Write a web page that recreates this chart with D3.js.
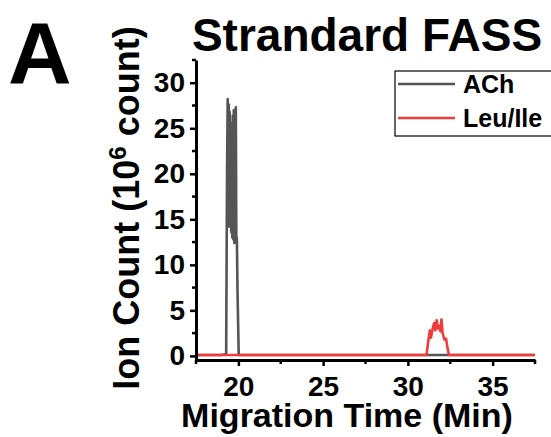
<!DOCTYPE html>
<html>
<head>
<meta charset="utf-8">
<script src="https://cdn.jsdelivr.net/npm/d3@7"></script>
<style>
  body { margin: 0; background: #fff; }
  text { font-family: "Liberation Sans", Arial, sans-serif; font-weight: bold; }
</style>
</head>
<body>
<div id="chart"></div>
<script>
// ACh trace (min, 10^6 count)
var achTime  = [17.5, 19.0, 19.28, 19.33, 19.37, 19.40, 19.43, 19.46, 19.49, 19.52, 19.55, 19.58, 19.61, 19.64, 19.67, 19.70, 19.73, 19.76, 19.79, 19.82, 19.85, 19.88, 19.91, 19.95, 20.02, 20.1, 37.5];
var achValue = [0.1, 0.1, 0.2, 20.0, 28.2, 15.0, 27.6, 14.2, 26.8, 16.0, 25.6, 13.6, 25.2, 13.0, 26.4, 12.8, 27.0, 12.4, 26.6, 13.2, 27.3, 12.5, 13.0, 7.0, 0.1, 0.1, 0.1];
// Leu/Ile trace
var leuTime  = [17.5, 31.10, 31.20, 31.30, 31.36, 31.45, 31.55, 31.62, 31.70, 31.78, 31.85, 31.92, 31.98, 32.05, 32.15, 32.25, 32.32, 32.42, 37.5];
var leuValue = [0.1, 0.1, 1.6, 2.8, 2.0, 2.9, 3.6, 2.8, 3.9, 3.0, 3.3, 2.7, 4.0, 2.5, 1.8, 1.9, 1.1, 0.1, 0.1];

var xTicks = [20, 25, 30, 35];
var yTicks = [0, 5, 10, 15, 20, 25, 30];
var seriesNames  = ["ACh", "Leu/Ile"];
var seriesColors = ["#555555", "#ee3b3b"];

const W = 551, H = 437;
const mLeft = 196, mRight = 535, mTop = 60, mBottom = 360;

const svg = d3.select("#chart").append("svg")
  .attr("width", W).attr("height", H);

const x = d3.scaleLinear().domain([17.5, 37.5]).range([mLeft, mRight]);
const y = d3.scaleLinear().domain([-0.45, 32.5]).range([mBottom, mTop]);

// traces
const line = d3.line().x(d => x(d[0])).y(d => y(d[1]));
const traces = [d3.zip(achTime, achValue), d3.zip(leuTime, leuValue)];
svg.selectAll("path.trace")
  .data(traces)
  .enter().append("path")
  .attr("class", "trace")
  .attr("fill", "none")
  .attr("stroke", (d, i) => seriesColors[i])
  .attr("stroke-width", 2.6)
  .attr("stroke-linejoin", "round")
  .attr("d", line);

// axes
const xAxis = svg.append("g").attr("transform", "translate(0," + mBottom + ")")
  .call(d3.axisBottom(x).tickValues(xTicks).tickSize(6).tickPadding(8).tickSizeOuter(0));
xAxis.append("g").selectAll("line")
  .data([17.5, 22.5, 27.5, 32.5, 37.5])
  .enter().append("line")
  .attr("x1", d => x(d)).attr("x2", d => x(d))
  .attr("y1", 0).attr("y2", 4)
  .attr("stroke", "#000").attr("stroke-width", 2.5);

const yAxis = svg.append("g").attr("transform", "translate(" + mLeft + ",0)")
  .call(d3.axisLeft(y).tickValues(yTicks).tickSize(6).tickPadding(5).tickSizeOuter(0));
yAxis.append("g").selectAll("line")
  .data([2.5, 7.5, 12.5, 17.5, 22.5, 27.5, 32.5])
  .enter().append("line")
  .attr("y1", d => y(d)).attr("y2", d => y(d))
  .attr("x1", 0).attr("x2", -4)
  .attr("stroke", "#000").attr("stroke-width", 2.5);

svg.selectAll(".domain").attr("stroke", "#000").attr("stroke-width", 3);
svg.selectAll(".tick line").attr("stroke", "#000").attr("stroke-width", 2.5);
svg.selectAll(".tick text").attr("fill", "#000")
  .style("font-size", "28px").style("font-family", "'Liberation Sans', Arial, sans-serif");
xAxis.selectAll(".tick text").attr("y", 0).attr("dy", 36);

// axis titles
svg.append("text")
  .attr("x", 347).attr("y", 427)
  .attr("text-anchor", "middle")
  .style("font-size", "34px")
  .text("Migration Time (Min)");

const yl = svg.append("text")
  .attr("transform", "translate(139,208) rotate(-90)")
  .attr("text-anchor", "middle")
  .style("font-size", "36px");
yl.append("tspan").text("Ion Count (10");
yl.append("tspan").attr("dy", -13).style("font-size", "24px").text("6");
yl.append("tspan").attr("dy", 13).text(" count)");

// title and panel letter
svg.append("text")
  .attr("x", 367).attr("y", 51)
  .attr("text-anchor", "middle")
  .style("font-size", "46px")
  .text("Strandard FASS");

svg.append("text")
  .attr("x", 8).attr("y", 83)
  .style("font-size", "88px")
  .text("A");

// legend
const legend = svg.append("g");
legend.append("rect")
  .attr("x", 395).attr("y", 71).attr("width", 160).attr("height", 65)
  .attr("fill", "#fff").attr("stroke", "#000").attr("stroke-width", 1.2);
const items = legend.selectAll("g.item")
  .data(seriesNames)
  .enter().append("g").attr("class", "item")
  .attr("transform", (d, i) => "translate(0," + (84 + i * 34) + ")");
items.append("line")
  .attr("x1", 398).attr("x2", 455)
  .attr("stroke", (d, i) => seriesColors[i]).attr("stroke-width", 2.6);
items.append("text")
  .attr("x", 463).attr("y", 9)
  .style("font-size", "25px")
  .text(d => d);
</script>
</body>
</html>
